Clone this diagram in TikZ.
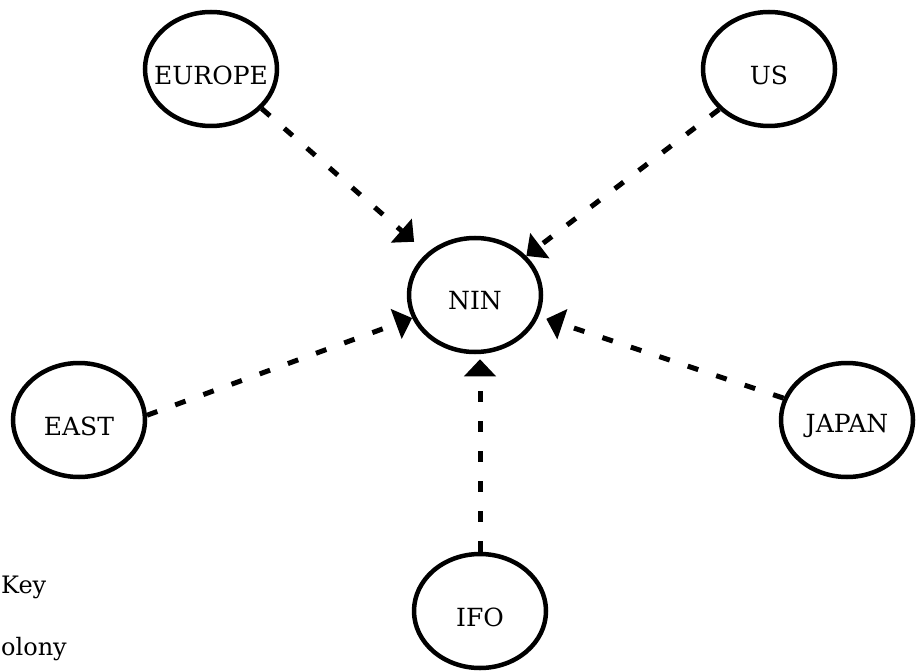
\documentclass[tikz,border=0pt]{standalone}
\usepackage{fontspec}
\setmainfont{DejaVu Serif}
\usetikzlibrary{shapes.geometric,arrows.meta}
\begin{document}
\begin{tikzpicture}[x=1pt,y=-1pt,
  ell/.style={ellipse,draw,line width=4.5pt,minimum width=132pt,minimum height=114pt,inner sep=0pt},
  lbl/.style={font=\fontsize{25}{29}\selectfont, yshift=-6pt},
  link/.style={line width=5pt, dash pattern=on 11pt off 19pt, -{Triangle[width=31pt,length=17pt]}},
  keytxt/.style={font=\fontsize{24}{28}\selectfont, anchor=base west, inner sep=0pt}]
\useasboundingbox (0,0) rectangle (918,671);
\node[ell,label={[lbl]center:EUROPE}] (europe) at (211,69) {};
\node[ell,label={[lbl]center:US}] (us) at (769,69) {};
\node[ell,label={[lbl]center:NIN}] (nin) at (475,295) {};
\node[ell,label={[lbl]center:EAST}] (east) at (79,420) {};
\node[ell,label={[lbl]center:JAPAN}] (japan) at (847,420) {};
\node[ell,label={[lbl]center:IFO}] (ifo) at (480,611) {};
\draw[link, shorten >=17pt] (europe.-38) -- (nin);
\draw[link] (us.-141) -- (nin);
\draw[link] (east.4) -- (nin);
\draw[link, shorten >=8pt] (japan.161) -- (nin);
\draw[link, shorten >=5pt] (ifo.north) -- (ifo.north |- nin.south);
\node[keytxt] (key) at (1,593) {Key};
\node[keytxt] (colony) at (1,655) {olony};
\end{tikzpicture}
\end{document}
